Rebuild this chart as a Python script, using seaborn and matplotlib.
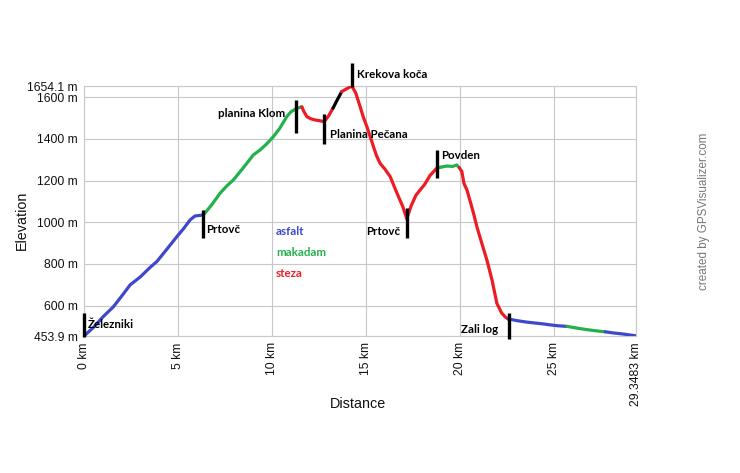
import numpy as np
import pandas as pd
import matplotlib
matplotlib.use("Agg")
import matplotlib.pyplot as plt
import seaborn as sns

sns.set_style("white")
plt.rcParams['font.family'] = ['Liberation Sans', 'DejaVu Sans']

# elevation profile (km, m)
dist_km = [0.0, 0.5, 1.0, 1.56, 2.0, 2.45, 3.0, 3.5, 3.87, 4.4, 4.93, 5.3, 5.64, 5.9, 6.35,
           6.8, 7.23, 7.6, 7.94, 8.5, 9.0, 9.36, 9.7, 10.07, 10.4, 10.78, 11.0, 11.31, 11.58,
           11.7, 11.85, 12.05, 12.29, 12.55, 12.77, 13.0, 13.24,
           13.45, 13.7,
           13.95, 14.24, 14.45, 14.68, 14.85, 15.04, 15.2, 15.39, 15.55, 15.74, 16.0, 16.28,
           16.5, 16.72, 16.95, 17.16, 17.4, 17.65, 17.87, 18.1, 18.4, 18.78, 18.94,
           19.3, 19.6, 19.82, 19.95,
           20.09, 20.2, 20.36, 20.55, 20.71, 20.89, 21.15, 21.42, 21.7, 21.95, 22.2, 22.4, 22.55,
           23.0, 23.5, 24.0, 24.5, 24.8, 25.2, 25.68,
           26.2, 26.7, 27.2, 27.71,
           28.2, 28.7, 29.0, 29.3483]
elev_m = [453.9, 495, 545, 594, 645, 699, 738, 782, 811, 870, 930, 970, 1011, 1030, 1035,
          1085, 1139, 1175, 1203, 1265, 1323, 1347, 1375, 1411, 1450, 1507, 1530, 1547, 1554,
          1530, 1507, 1497, 1491, 1487, 1483, 1510, 1548,
          1585, 1627,
          1640, 1654.1, 1620, 1555, 1505, 1459, 1415, 1363, 1320, 1283, 1255, 1219,
          1170, 1123, 1075, 1017, 1080, 1130, 1155, 1180, 1225, 1262, 1264,
          1270, 1268, 1275, 1262,
          1243, 1187, 1155, 1095, 1043, 978, 899, 819, 720, 611, 565, 545, 536,
          528, 521, 516, 511, 507, 503, 500,
          492, 485, 479, 474,
          468, 463, 459, 455]

# surface type between breakpoints
seg_breaks = [0.0, 6.35, 11.58, 13.24, 13.7, 18.94, 19.95, 22.55, 25.68, 27.71, 29.3483]
seg_surface = ['asfalt', 'makadam', 'steza', 'neznano', 'steza', 'makadam', 'steza',
               'asfalt', 'makadam', 'asfalt']
surface_colors = {'asfalt': '#3f48cc', 'makadam': '#22b14c', 'steza': '#ed1c24',
                  'neznano': '#000000'}

# waypoints
wpt_names = ['Železniki', 'Prtovč', 'planina Klom', 'Planina Pečana', 'Krekova koča',
             'Prtovč', 'Povden', 'Zali log']
wpt_km = [0.0, 6.35, 11.28, 12.77, 14.24, 17.16, 18.78, 22.57]
# marker bottom/top (m), label x (km), label y (m), alignment
wpt_layout = [
    (450, 566, 0.2, 507, 'left'),
    (924, 1059, 6.5, 963, 'left'),
    (1428, 1587, 10.7, 1524, 'right'),
    (1374, 1518, 13.1, 1419, 'left'),
    (1650, 1763, 14.5, 1707, 'left'),
    (925, 1068, 16.8, 955, 'right'),
    (1214, 1347, 19.0, 1319, 'left'),
    (438, 564, 22.0, 486, 'right'),
]

ymin, ymax = 453.9, 1654.1
xmax = 29.3483

rows = []
for i, surf in enumerate(seg_surface):
    lo, hi = seg_breaks[i], seg_breaks[i + 1]
    for d, e in zip(dist_km, elev_m):
        if lo - 1e-9 <= d <= hi + 1e-9:
            rows.append({'seg': 'seg%d' % i, 'surface': surf, 'dist': d, 'elev': e})
df = pd.DataFrame(rows)
seg_palette = {'seg%d' % i: surface_colors[s] for i, s in enumerate(seg_surface)}

fig = plt.figure(figsize=(7.4, 4.73), dpi=100)
ax = fig.add_axes([84 / 740, 1 - 336 / 473, 552 / 740, 250 / 473])

sns.lineplot(data=df, x='dist', y='elev', hue='seg', palette=seg_palette, sort=False,
             estimator=None, legend=False, linewidth=2.3, ax=ax, zorder=3)

ax.set_xlim(0, xmax)
ax.set_ylim(ymin, ymax)

grid_c = '#c8c8c8'
xt = [0, 5, 10, 15, 20, 25, xmax]
ax.set_xticks(xt)
ax.set_xticklabels(['0 km', '5 km', '10 km', '15 km', '20 km', '25 km', '29.3483 km'],
                   rotation=90, fontsize=8.7)
yt = [ymin, 600, 800, 1000, 1200, 1400, 1600, ymax]
ax.set_yticks(yt)
ax.set_yticklabels(['453.9 m', '600 m', '800 m', '1000 m', '1200 m', '1400 m', '1600 m',
                    '1654.1 m'], fontsize=8.7)
ax.tick_params(axis='both', length=3, width=0.8, color=grid_c, pad=1.5, labelcolor='#111111')
ax.grid(True, color=grid_c, linewidth=0.8)
ax.set_axisbelow(True)
for sp in ax.spines.values():
    sp.set_color(grid_c)
    sp.set_linewidth(0.8)
ax.set_xlabel('')
ax.set_ylabel('')

# waypoint markers and names
for name, km, (b, t, lx, ly, ha) in zip(wpt_names, wpt_km, wpt_layout):
    ax.plot([km, km], [b, t], color='black', linewidth=2.4, solid_capstyle='butt',
            clip_on=False, zorder=5)
    ax.text(lx, ly, name, ha=ha, va='center', fontsize=8.3, fontweight='bold',
            family=['Lato', 'DejaVu Sans'], color='black', zorder=6)

# surface legend as text
leg_y = [955, 856, 752]
for (surf, col), y in zip(list(surface_colors.items())[:3], leg_y):
    ax.text(10.2, y, surf, color=col, fontsize=8.3, fontweight='bold',
            family=['Lato', 'DejaVu Sans'], va='center', ha='left', zorder=6)

fig.text(22 / 740, 1 - 220 / 473, 'Elevation', rotation=90, ha='center', va='center',
         fontsize=10.4, color='#111111')
fig.text(358 / 740, 1 - 404 / 473, 'Distance', ha='center', va='center',
         fontsize=10.4, color='#111111')
fig.text(704 / 740, 1 - 211 / 473, 'created by GPSVisualizer.com', rotation=90,
         ha='center', va='center', fontsize=8.4, color='#777777')

fig.savefig('out.png', dpi=100)
